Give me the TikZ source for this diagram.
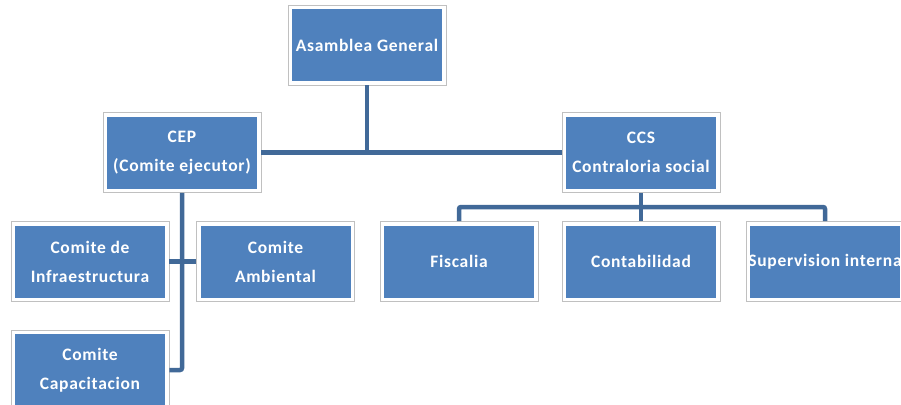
\documentclass[tikz,border=0pt]{standalone}
\usepackage{fontspec}
\setmainfont{Carlito}
\newfontfamily\cajafont[LetterSpace=4]{Carlito}
\definecolor{cajaazul}{HTML}{4F81BD}
\definecolor{lineaazul}{HTML}{416998}
\definecolor{marcogris}{HTML}{C0C0C0}
\begin{document}
\begin{tikzpicture}[x=1pt, y=-1pt,
  caja/.style={rectangle, draw=marcogris, line width=.6pt, fill=white,
    minimum width=158pt, minimum height=80pt, inner sep=0pt, text=white,
    align=center, font=\cajafont\fontsize{17.5}{29}\selectfont\bfseries,
    path picture={\fill[cajaazul] ([shift={(4pt,4pt)}]path picture bounding box.south west)
      rectangle ([shift={(-4pt,-4pt)}]path picture bounding box.north east);}},
  enlace/.style={draw=lineaazul, line width=4.5pt, rounded corners=2pt}]
\useasboundingbox (0,0) rectangle (901,404);
% asamblea y comites principales
\node[caja] (asamblea) at (367,45) {Asamblea General};
\node[caja] (cep) at (182,152.5) {CEP\\(Comite ejecutor)};
\node[caja] (ccs) at (641,152.5) {CCS\\Contraloria social};
% contraloria
\node[caja] (fiscalia) at (459,261.5) {Fiscalia};
\node[caja] (contab) at (641,261.5) {Contabilidad};
\node[caja] (superv) at (825,261.5) {\makebox[150pt]{Supervision interna}};
% comite ejecutor
\node[caja] (infra) at (90,261.5) {Comite de\\Infraestructura};
\node[caja] (ambiental) at (275.5,261.5) {Comite\\Ambiental};
\node[caja] (capac) at (90,370) {Comite\\Capacitacion};
\coordinate (barra) at (641,207);
\draw[enlace] (asamblea.south) -- (asamblea.south |- cep.east);
\draw[enlace] (cep.east) -- (ccs.west);
\draw[enlace] (ccs.south) -- (contab.north);
\draw[enlace] (fiscalia.north) |- (barra) -| (superv.north);
\draw[enlace] (cep.south) |- (capac.east);
\draw[enlace] (infra.east) -- (ambiental.west);
\end{tikzpicture}
\end{document}
